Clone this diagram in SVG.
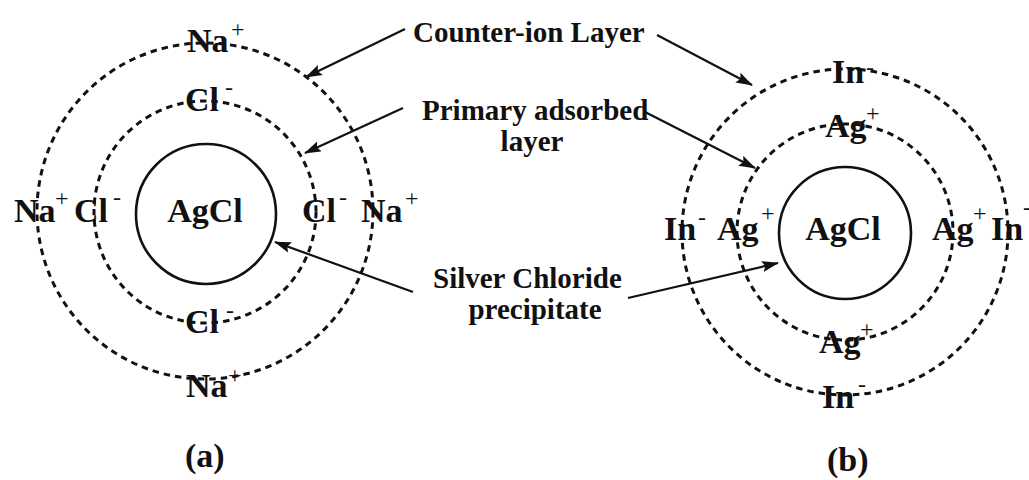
<svg xmlns="http://www.w3.org/2000/svg" width="1029" height="480" viewBox="0 0 1029 480">
<defs>
<style>
.solid{fill:none;stroke:#111;stroke-width:2.6}
.dash{fill:none;stroke:#111;stroke-width:3;stroke-dasharray:6.5 5}
.ion{font-family:"Liberation Serif","Times New Roman",serif;font-weight:bold;font-size:34px;fill:#111}
.sup{font-size:24px;font-weight:normal}
.lbl{font-family:"Liberation Serif","Times New Roman",serif;font-weight:bold;font-size:29px;fill:#111}
.arr{stroke:#111;stroke-width:2.2;fill:none;marker-end:url(#ah)}
</style>
<marker id="ah" markerUnits="userSpaceOnUse" markerWidth="17" markerHeight="11" refX="16" refY="5.5" orient="auto">
<path d="M0,0 L17,5.5 L0,11 L3,5.5 z" fill="#111"/>
</marker>
</defs>
<rect width="1029" height="480" fill="#fff"/>

<g id="diagram-a">
<g id="a-core">
<circle class="solid" cx="206" cy="214" r="70"/>
<text class="ion" x="205" y="222" text-anchor="middle">AgCl</text>
</g>
<g id="a-primary-layer">
<circle class="dash" cx="205" cy="212" r="111"/>
<text class="ion"><tspan x="185" y="111">Cl</tspan><tspan class="sup" x="225" y="95">-</tspan></text>
<text class="ion"><tspan x="74" y="222">Cl</tspan><tspan class="sup" x="113" y="205">-</tspan></text>
<text class="ion"><tspan x="302" y="222">Cl</tspan><tspan class="sup" x="339" y="205">-</tspan></text>
<text class="ion"><tspan x="185" y="333">Cl</tspan><tspan class="sup" x="226" y="318">-</tspan></text>
</g>
<g id="a-counter-layer">
<circle class="dash" cx="205" cy="211" r="168"/>
<text class="ion"><tspan x="187" y="52">Na</tspan><tspan class="sup" x="231" y="37">+</tspan></text>
<text class="ion"><tspan x="14" y="222">Na</tspan><tspan class="sup" x="55" y="206">+</tspan></text>
<text class="ion"><tspan x="361" y="222">Na</tspan><tspan class="sup" x="405" y="206">+</tspan></text>
<text class="ion"><tspan x="186" y="397">Na</tspan><tspan class="sup" x="228" y="383">+</tspan></text>
</g>
<text id="label-a" class="ion" x="185" y="467">(a)</text>
</g>

<g id="diagram-b">
<g id="b-core">
<circle class="solid" cx="845" cy="233" r="66"/>
<text class="ion" x="843" y="240" text-anchor="middle">AgCl</text>
</g>
<g id="b-primary-layer">
<circle class="dash" cx="845" cy="232" r="108"/>
<text class="ion"><tspan x="825" y="137">Ag</tspan><tspan class="sup" x="866" y="121">+</tspan></text>
<text class="ion"><tspan x="717" y="240">Ag</tspan><tspan class="sup" x="761" y="221">+</tspan></text>
<text class="ion"><tspan x="932" y="240">Ag</tspan><tspan class="sup" x="973" y="221">+</tspan></text>
<text class="ion"><tspan x="819" y="353">Ag</tspan><tspan class="sup" x="860" y="337">+</tspan></text>
</g>
<g id="b-counter-layer">
<circle class="dash" cx="845" cy="232" r="163"/>
<text class="ion"><tspan x="832" y="83">In</tspan><tspan class="sup" x="866" y="75">-</tspan></text>
<text class="ion"><tspan x="664" y="240">In</tspan><tspan class="sup" x="698" y="225">-</tspan></text>
<text class="ion"><tspan x="991" y="240">In</tspan><tspan class="sup" x="1023" y="215">-</tspan></text>
<text class="ion"><tspan x="822" y="408">In</tspan><tspan class="sup" x="858" y="392">-</tspan></text>
</g>
<text id="label-b" class="ion" x="827" y="471">(b)</text>
</g>

<g id="callout-counter-ion">
<text class="lbl" x="413" y="42">Counter-ion Layer</text>
</g>
<g id="callout-primary">
<text class="lbl" x="422" y="120">Primary adsorbed</text>
<text class="lbl" x="532" y="151" text-anchor="middle">layer</text>
</g>
<g id="callout-precipitate">
<text class="lbl" x="433" y="288">Silver Chloride</text>
<text class="lbl" x="535" y="319" text-anchor="middle">precipitate</text>
</g>

<g id="connectors">
<line class="arr" x1="405" y1="29" x2="306" y2="77"/>
<line class="arr" x1="657" y1="35" x2="752" y2="85"/>
<line class="arr" x1="403" y1="108" x2="305" y2="153"/>
<line class="arr" x1="645" y1="112" x2="755" y2="168"/>
<line class="arr" x1="413" y1="292" x2="275" y2="242"/>
<line class="arr" x1="628" y1="298" x2="778" y2="263"/>
</g>
</svg>
